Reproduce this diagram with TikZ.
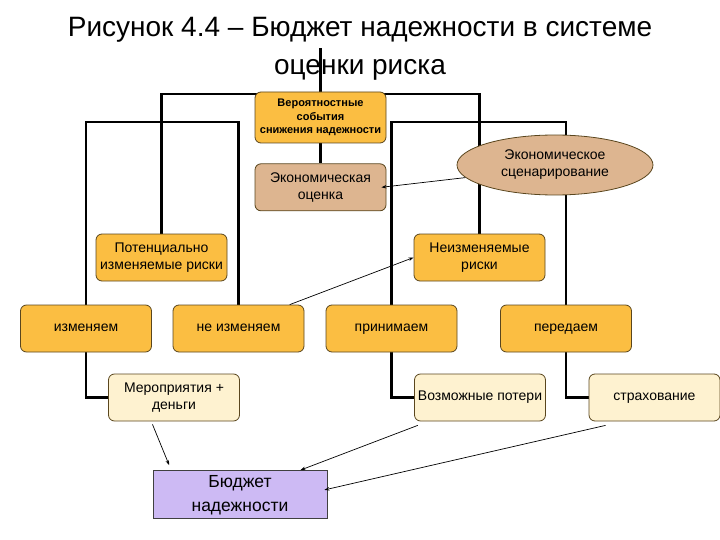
\documentclass[tikz,border=0pt]{standalone}
\usepackage{fontspec}
\setmainfont{Liberation Sans}
\usetikzlibrary{positioning,shapes.geometric,arrows.meta,backgrounds}

\definecolor{boxorange}{RGB}{251,190,66}
\definecolor{boxlight}{RGB}{254,242,208}
\definecolor{boxtan}{RGB}{221,181,144}
\definecolor{boxlilac}{RGB}{205,186,244}
\definecolor{boxedge}{RGB}{90,70,30}

\newcommand{\boxlines}[1]{\begin{tabular}{@{}c@{}}#1\end{tabular}}

\begin{document}
\begin{tikzpicture}[x=1pt, y=-1pt,
    every node/.style = { inner sep = 0pt, font = \fontsize{14}{17}\selectfont },
    stepbox/.style = { draw = boxedge, line width = .8pt, rounded corners = 6pt,
                       minimum width = 131pt, minimum height = 47pt },
    orangebox/.style = { stepbox, fill = boxorange },
    lightbox/.style = { stepbox, fill = boxlight },
    treeline/.style = { line width = 2.6pt },
    link/.style = { -{Stealth[length=5pt,width=3.5pt]}, line width = .7pt }]

  \useasboundingbox (0,0) rectangle (720,540);

  \node (title) at (360,48.4) [font = \fontsize{28}{38}\selectfont]
    { \boxlines{Рисунок 4.4 -- Бюджет надежности в системе \\ оценки риска} };

  \node (ver) at (320.5,117.5) [orangebox, minimum height = 51pt, font = \bfseries\fontsize{11}{13.5}\selectfont]
    { \boxlines{Вероятностные \\ события \\ снижения надежности} };
  \node (eko) [stepbox, fill = boxtan, below = 20pt of ver] { \boxlines{Экономическая \\ оценка} };
  \node (ell) at (555,165) [ellipse, draw = boxedge, line width = .8pt, fill = boxtan,
                            minimum width = 196pt, minimum height = 60pt]
    { \boxlines{Экономическое \\ сценарирование} };

  \node (pot) at (161.5,257.5) [orangebox] { \boxlines{Потенциально \\ изменяемые риски} };
  \node (nei) at (479.5,257.5) [orangebox] { \boxlines{Неизменяемые \\ риски} };

  \node (izm)   at (86,328.5)    [orangebox] { \boxlines{изменяем} };
  \node (neizm) at (238.5,328.5) [orangebox] { \boxlines{не изменяем} };
  \node (prin)  at (391.5,328.5) [orangebox] { \boxlines{принимаем} };
  \node (pered) at (566,328.5)   [orangebox] { \boxlines{передаем} };

  \node (mer)   at (174,397.5)   [lightbox] { \boxlines{Мероприятия + \\ деньги} };
  \node (voz)   at (480,397.5)   [lightbox] { \boxlines{Возможные потери} };
  \node (strah) at (654.5,397.5) [lightbox] { \boxlines{страхование} };

  \node (bud) at (240,494.5) [draw = black!75, line width = .8pt, fill = boxlilac,
                              minimum width = 174pt, minimum height = 45pt,
                              font = \fontsize{17.5}{24}\selectfont]
    { \boxlines{Бюджет \\ надежности} };

  \coordinate (bar1) at (0,94);
  \coordinate (bar2) at (0,122);

  \begin{scope}[on background layer]
    \draw[treeline] (title.center -| ver.north) -- (ver.north);
    \draw[treeline] (ver) -- (eko);
    \draw[treeline] (pot.north) -- (pot.north |- bar1) -- (nei.north |- bar1) -- (nei.north);
    \draw[treeline] (izm.north) -- (izm.north |- bar2) -- (neizm.north |- bar2) -- (neizm.north);
    \draw[treeline] (prin.north) -- (prin.north |- bar2) -- (pered.north |- bar2) -- (pered.north);
    \draw[treeline] (izm.south) |- (mer.west);
    \draw[treeline] (prin.south) |- (voz.west);
    \draw[treeline] (pered.south) |- (strah.west);
  \end{scope}

  % arrows
  \draw[link] (ell.188) -- ([xshift=-5pt]eko.east);
  \draw[link] (neizm.25) -- (nei.west);
  \draw[link] ([yshift=-3pt]mer.228) -- ([yshift=5pt]bud.161);
  \draw[link] ([yshift=-4pt]voz.201) -- (bud.22);
  \draw[link] ([yshift=-4pt]strah.206) -- ([xshift=-3pt]bud.3);

\end{tikzpicture}
\end{document}
